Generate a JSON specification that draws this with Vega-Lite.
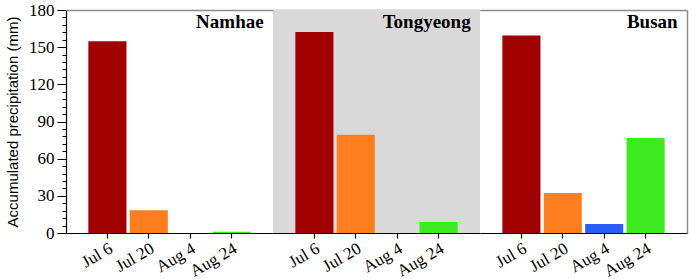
{
  "$schema": "https://vega.github.io/schema/vega-lite/v6.json",
  "padding": {"top": 1, "left": 5, "right": 5, "bottom": 0},
  "background": "white",
  "config": {
    "view": {"stroke": null},
    "font": "Liberation Serif",
    "style": {"guide-label": {"font": "Liberation Serif", "fill": "black"}, "guide-title": {"font": "Liberation Sans", "fill": "black"}},
    "axis": {"labelFont": "Liberation Serif", "labelColor": "black", "titleFont": "Liberation Sans", "titleColor": "black", "titleFontWeight": "normal"},
    "text": {"font": "Liberation Serif"}
  },
  "data": {"values": [
    {"site": "Namhae", "date": "Jul 6", "value": 154.7},
    {"site": "Namhae", "date": "Jul 20", "value": 18.3},
    {"site": "Namhae", "date": "Aug 4", "value": 0},
    {"site": "Namhae", "date": "Aug 24", "value": 1},
    {"site": "Tongyeong", "date": "Jul 6", "value": 162.2},
    {"site": "Tongyeong", "date": "Jul 20", "value": 79.4},
    {"site": "Tongyeong", "date": "Aug 4", "value": 0},
    {"site": "Tongyeong", "date": "Aug 24", "value": 8.9},
    {"site": "Busan", "date": "Jul 6", "value": 159.5},
    {"site": "Busan", "date": "Jul 20", "value": 32.3},
    {"site": "Busan", "date": "Aug 4", "value": 7.3},
    {"site": "Busan", "date": "Aug 24", "value": 76.7}
  ]},
  "facet": {"column": {"field": "site", "type": "nominal", "sort": ["Namhae", "Tongyeong", "Busan"], "header": null}},
  "spacing": 0,
  "spec": {
    "width": 207,
    "height": 223,
    "layer": [
      {
        "mark": {"type": "rect", "color": "#d9d9d9"},
        "encoding": {
          "y": {"datum": 0, "type": "quantitative", "axis": null},
          "y2": {"datum": 180},
          "fillOpacity": {"condition": {"test": "datum.site === 'Tongyeong'", "value": 1}, "value": 0}
        }
      },
      {
        "mark": {"type": "bar"},
        "encoding": {
          "x": {
            "field": "date", "type": "ordinal",
            "sort": ["Jul 6", "Jul 20", "Aug 4", "Aug 24"],
            "scale": {"paddingInner": 0.08, "paddingOuter": 0.54},
            "axis": {
              "orient": "bottom", "title": null, "labelAngle": -30, "labelAlign": "right", "labelBaseline": "top",
              "labelFont": "Liberation Serif", "labelFontSize": 17, "labelColor": "black", "labelPadding": 2,
              "tickSize": 5, "tickColor": "black", "domainColor": "black", "domainWidth": 1.2, "tickWidth": 1.2
            }
          },
          "y": {
            "field": "value", "type": "quantitative",
            "scale": {"domain": [0, 180], "nice": false},
            "axis": {
              "orient": "left", "title": "Accumulated precipitation (mm)",
              "titleFont": "Liberation Sans", "titleFontSize": 15, "titleFontWeight": "normal", "titleColor": "black", "titlePadding": 8,
              "values": [0, 6, 12, 18, 24, 30, 36, 42, 48, 54, 60, 66, 72, 78, 84, 90, 96, 102, 108, 114, 120, 126, 132, 138, 144, 150, 156, 162, 168, 174, 180],
              "labelExpr": "datum.value % 30 === 0 ? datum.label : ''",
              "labelOverlap": false,
              "labelFont": "Liberation Serif", "labelFontSize": 17, "labelColor": "black", "labelPadding": 3,
              "tickSize": {"condition": {"test": "datum.value % 30 === 0", "value": 9}, "value": 4},
              "tickColor": "black", "domainColor": "black", "domainWidth": 1.2, "grid": false
            }
          },
          "color": {
            "field": "date", "type": "nominal",
            "scale": {"domain": ["Jul 6", "Jul 20", "Aug 4", "Aug 24"], "range": ["#a00000", "#ff7f1e", "#2b5cf5", "#3dea1f"]},
            "legend": null
          }
        }
      },
      {
        "transform": [{"filter": "datum.date === 'Jul 6'"}],
        "mark": {"type": "text", "font": "Liberation Serif", "fontWeight": "bold", "fontSize": 19, "align": "right", "baseline": "top", "dx": 13, "dy": 3, "color": "black"},
        "encoding": {
          "x": {"datum": "Aug 24", "type": "ordinal", "bandPosition": 1,
                "axis": {"orient": "top", "labels": false, "ticks": false, "title": null, "domainColor": "#8c8c8c", "domainWidth": 1.5}},
          "y": {"datum": 180, "type": "quantitative",
                "axis": {"orient": "right", "labels": false, "ticks": false, "title": null, "grid": false, "domainColor": "#8c8c8c", "domainWidth": 1.5}},
          "text": {"field": "site"}
        }
      }
    ],
    "resolve": {"axis": {"x": "independent", "y": "independent"}}
  }
}
